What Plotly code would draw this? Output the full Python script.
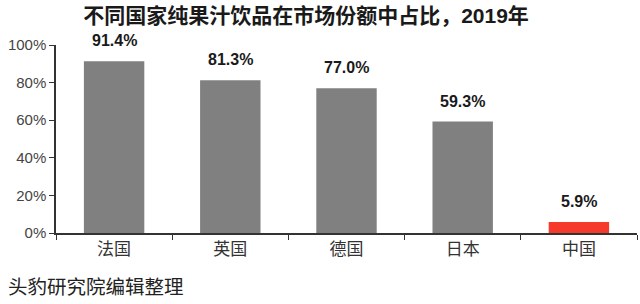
import plotly.graph_objects as go

categories = ["法国", "英国", "德国", "日本", "中国"]
values = [91.4, 81.3, 77.0, 59.3, 5.9]
labels = ["91.4%", "81.3%", "77.0%", "59.3%", "5.9%"]
bar_colors = ["#808080", "#808080", "#808080", "#808080", "#F5392A"]
y_ticks = [0, 20, 40, 60, 80, 100]
y_tick_text = ["0%", "20%", "40%", "60%", "80%", "100%"]

FONT = "Liberation Sans, Noto Sans CJK SC"
CJK = "Noto Sans CJK SC"

fig = go.Figure(go.Bar(
    x=categories, y=values, marker=dict(color=bar_colors, line=dict(width=0)),
))

annotations = [
    dict(x=c, y=v, text=f"<b>{t}</b>", showarrow=False, xref="x", yref="y",
         yanchor="bottom", yshift=10,
         font=dict(family=FONT, size=16, color="#1a1a1a"))
    for c, v, t in zip(categories, values, labels)
]
annotations.append(dict(text="头豹研究院编辑整理", xref="paper", yref="paper",
                        x=-50/581, y=-52/188, xanchor="left", yanchor="middle",
                        showarrow=False,
                        font=dict(family=CJK, size=19.5, color="#222222")))

fig.update_layout(
    width=640, height=304,
    margin=dict(l=56, r=3, t=45, b=71),
    paper_bgcolor="white", plot_bgcolor="white",
    bargap=0.48, showlegend=False,
    font=dict(family=FONT),
    title=dict(text="<b>不同国家纯果汁饮品在市场份额中占比，2019年</b>",
               x=306/640, xanchor="center", xref="container", y=1 - 16/304, yref="container",
               yanchor="middle",
               font=dict(family=FONT, size=21, color="#1a1a1a")),
    annotations=annotations,
)
fig.update_xaxes(showline=True, linecolor="#333333", linewidth=1.5,
                 ticks="outside", tickson="boundaries", ticklen=5, tickcolor="#333333",
                 tickfont=dict(family=CJK, size=17, color="#333333"))
fig.update_yaxes(range=[0, 100], tickvals=y_ticks, ticktext=y_tick_text,
                 showgrid=False, zeroline=False, showline=True, linecolor="#333333",
                 linewidth=1.5, ticks="outside", ticklen=5, tickcolor="#333333",
                 tickfont=dict(family=FONT, size=15, color="#444444"))

fig.write_html("out.html")
